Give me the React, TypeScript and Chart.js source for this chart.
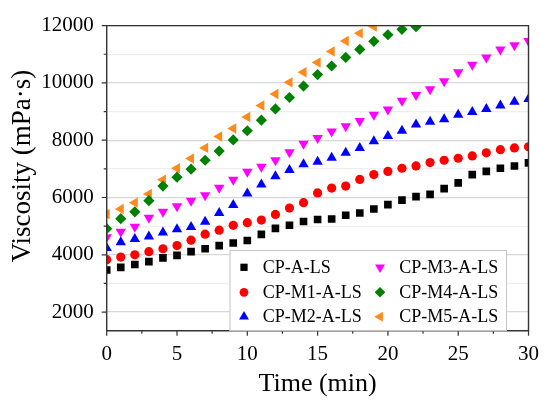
import React, { useEffect, useRef } from 'react';
import { Chart, registerables } from 'chart.js';

Chart.register(...registerables);

// ---------------- data ----------------
const TIME_MIN = [0, 1, 2, 3, 4, 5, 6, 7, 8, 9, 10, 11, 12, 13, 14, 15, 16, 17, 18, 19, 20, 21, 22, 23, 24, 25, 26, 27, 28, 29, 30];

const CP_A_LS = [3470, 3560, 3660, 3760, 3890, 3980, 4110, 4210, 4320, 4410, 4500, 4710, 4920, 5030, 5160, 5230, 5250, 5380, 5460, 5600, 5750, 5910, 6030, 6110, 6310, 6510, 6800, 6910, 7020, 7100, 7210];
const CP_M1_A_LS = [3830, 3920, 4000, 4110, 4210, 4320, 4510, 4720, 4860, 5030, 5120, 5210, 5410, 5630, 5820, 6160, 6330, 6400, 6630, 6800, 6910, 7020, 7100, 7220, 7300, 7370, 7450, 7560, 7670, 7730, 7770];
const CP_M2_A_LS = [4240, 4440, 4550, 4640, 4780, 4890, 4970, 5150, 5460, 5740, 6140, 6450, 6740, 6960, 7160, 7250, 7390, 7560, 7730, 7960, 8150, 8330, 8550, 8640, 8730, 8890, 8980, 9090, 9210, 9340, 9440];
const CP_M3_A_LS = [4610, 4800, 4980, 5290, 5500, 5690, 5890, 6080, 6340, 6620, 6900, 7070, 7300, 7580, 7880, 8080, 8300, 8490, 8670, 8890, 9070, 9380, 9580, 9780, 10060, 10370, 10630, 10890, 11170, 11310, 11460];
const CP_M4_A_LS = [4910, 5260, 5500, 5890, 6400, 6710, 6990, 7300, 7620, 8010, 8330, 8700, 9090, 9490, 9890, 10290, 10590, 10890, 11170, 11450, 11680, 11870, 11960];
const CP_M5_A_LS = [5420, 5600, 5820, 6120, 6620, 7020, 7360, 7730, 8130, 8410, 8810, 9210, 9610, 10020, 10370, 10710, 11100, 11460, 11730, 11970];

const SERIES_LABELS = ['CP-A-LS', 'CP-M1-A-LS', 'CP-M2-A-LS', 'CP-M3-A-LS', 'CP-M4-A-LS', 'CP-M5-A-LS'];
const SERIES_VALUES = [CP_A_LS, CP_M1_A_LS, CP_M2_A_LS, CP_M3_A_LS, CP_M4_A_LS, CP_M5_A_LS];

const Y_TICKS = [2000, 3000, 4000, 5000, 6000, 7000, 8000, 9000, 10000, 11000, 12000];
const X_TICKS = [0, 2.5, 5, 7.5, 10, 12.5, 15, 17.5, 20, 22.5, 25, 27.5, 30];

const X_TITLE = 'Time (min)';
const Y_TITLE = 'Viscosity (mPa·s)';

// ---------------- styles ----------------
const STYLES = [
  { color: '#000000', pointStyle: 'rect', rotation: 0, radius: 5.4 },
  { color: '#ff0000', pointStyle: 'circle', rotation: 0, radius: 4.6 },
  { color: '#0000ff', pointStyle: 'triangle', rotation: 0, radius: 6 },
  { color: '#ff00ff', pointStyle: 'triangle', rotation: 180, radius: 6 },
  { color: '#008000', pointStyle: 'rectRot', rotation: 0, radius: 5.6 },
  { color: '#ff8a1c', pointStyle: 'triangle', rotation: -90, radius: 6 },
];

const FONT = '"Liberation Serif", "Times New Roman", serif';

function drawMarker(ctx: CanvasRenderingContext2D, style: string, x: number, y: number, r: number, rot: number, color: string) {
  ctx.save();
  ctx.fillStyle = color;
  ctx.beginPath();
  let a = (rot * Math.PI) / 180;
  if (style === 'circle') {
    ctx.arc(x, y, r, 0, Math.PI * 2);
  } else if (style === 'rect') {
    const s = r * Math.SQRT1_2;
    ctx.rect(x - s, y - s, 2 * s, 2 * s);
  } else if (style === 'rectRot') {
    ctx.moveTo(x - r, y);
    ctx.lineTo(x, y + r);
    ctx.lineTo(x + r, y);
    ctx.lineTo(x, y - r);
    ctx.closePath();
  } else {
    ctx.moveTo(x + Math.sin(a) * r, y - Math.cos(a) * r);
    a += (2 * Math.PI) / 3;
    ctx.lineTo(x + Math.sin(a) * r, y - Math.cos(a) * r);
    a += (2 * Math.PI) / 3;
    ctx.lineTo(x + Math.sin(a) * r, y - Math.cos(a) * r);
    ctx.closePath();
  }
  ctx.fill();
  ctx.restore();
}

const decorPlugin = {
  id: 'decor',
  afterDatasetsDraw(chart: any) {
    const ctx: CanvasRenderingContext2D = chart.ctx;
    const { left, right, top, bottom } = chart.chartArea;
    const xs = chart.scales.x;
    const ys = chart.scales.y;
    ctx.save();
    // frame
    ctx.strokeStyle = '#333333';
    ctx.lineWidth = 1.4;
    ctx.beginPath();
    ctx.rect(left, top, right - left, bottom - top);
    ctx.stroke();
    // ticks
    ctx.lineWidth = 1.2;
    ctx.beginPath();
    Y_TICKS.forEach((v) => {
      const py = ys.getPixelForValue(v);
      const len = v % 2000 === 0 ? 5 : 3;
      ctx.moveTo(left - len, py);
      ctx.lineTo(left, py);
    });
    X_TICKS.forEach((t) => {
      const px = xs.getPixelForValue(t);
      const len = t % 5 === 0 ? 5 : 3;
      ctx.moveTo(px, bottom);
      ctx.lineTo(px, bottom + len);
    });
    ctx.stroke();

    // legend box
    const lx = 229.5, ly = 250, lw = 276.5, lh = bottom - 250;
    ctx.fillStyle = '#ffffff';
    ctx.fillRect(lx, ly, lw, lh);
    ctx.strokeStyle = '#c4c4c4';
    ctx.lineWidth = 1;
    ctx.strokeRect(lx + 0.5, ly + 0.5, lw, lh - 0.5);
    const rows = [267.3, 292.3, 316.7];
    const markerX = [244, 380];
    const textX = [262.7, 399.3];
    ctx.font = `18px ${FONT}`;
    ctx.textBaseline = 'middle';
    ctx.textAlign = 'left';
    SERIES_LABELS.forEach((lab, i) => {
      const col = Math.floor(i / 3);
      const row = i % 3;
      const st = STYLES[i];
      drawMarker(ctx, st.pointStyle, markerX[col], rows[row], st.radius * 0.95, st.rotation, st.color);
      ctx.fillStyle = '#000000';
      ctx.fillText(lab, textX[col], rows[row] + 1);
    });

    // axis titles
    ctx.fillStyle = '#000000';
    ctx.textAlign = 'center';
    ctx.textBaseline = 'middle';
    ctx.font = `26px ${FONT}`;
    ctx.fillText(X_TITLE, (left + right) / 2, 384);
    ctx.save();
    ctx.translate(23, 166);
    ctx.rotate(-Math.PI / 2);
    ctx.font = `27px ${FONT}`;
    ctx.fillText(Y_TITLE, 0, 0);
    ctx.restore();
    ctx.restore();
  },
};

export default function App() {
  const ref = useRef<HTMLCanvasElement | null>(null);

  useEffect(() => {
    document.body.style.margin = '0';
    const canvas = ref.current;
    if (!canvas) return;
    const datasets = SERIES_VALUES.map((vals, i) => ({
      label: SERIES_LABELS[i],
      data: vals.map((v, k) => ({ x: TIME_MIN[k], y: v })),
      backgroundColor: STYLES[i].color,
      borderColor: STYLES[i].color,
      borderWidth: 0,
      pointStyle: STYLES[i].pointStyle,
      pointRotation: STYLES[i].rotation,
      pointRadius: STYLES[i].radius,
      pointBorderWidth: 0,
      showLine: false,
      clip: 0,
    }));

    const chart = new Chart(canvas, {
      type: 'scatter',
      data: { datasets } as any,
      options: {
        animation: false,
        responsive: false,
        devicePixelRatio: 1,
        layout: { padding: { left: 0, right: 18, top: 18, bottom: 0 } },
        plugins: { legend: { display: false }, tooltip: { enabled: false } },
        scales: {
          x: {
            type: 'linear',
            min: 0,
            max: 30,
            afterBuildTicks: (axis: any) => {
              axis.ticks = X_TICKS.map((v) => ({ value: v }));
            },
            afterFit: (axis: any) => {
              axis.height = 405 - 330.7;
            },
            grid: { display: false, drawTicks: false },
            border: { display: false },
            ticks: {
              autoSkip: false,
              maxRotation: 0,
              padding: 11,
              color: '#000000',
              font: { family: FONT, size: 21 },
              callback: (v: any) => (Number(v) % 5 === 0 ? String(v) : ''),
            },
          },
          y: {
            type: 'linear',
            min: 1350,
            max: 12000,
            afterBuildTicks: (axis: any) => {
              axis.ticks = Y_TICKS.map((v) => ({ value: v }));
            },
            afterFit: (axis: any) => {
              axis.width = 106.7;
            },
            grid: {
              drawTicks: false,
              color: (c: any) => (c.tick && c.tick.value % 2000 === 0 ? '#d8d8d8' : '#eeeeee'),
              lineWidth: 1.2,
            },
            border: { display: false },
            ticks: {
              autoSkip: false,
              padding: 13,
              color: '#000000',
              font: { family: FONT, size: 21 },
              callback: (v: any) => (Number(v) % 2000 === 0 ? String(v) : ''),
            },
          },
        },
      },
      plugins: [decorPlugin],
    } as any);
    return () => chart.destroy();
  }, []);

  return (
    <div style={{ width: 550, height: 405, position: 'relative', background: '#ffffff' }}>
      <canvas ref={ref} width={550} height={405} style={{ display: 'block' }} />
    </div>
  );
}
